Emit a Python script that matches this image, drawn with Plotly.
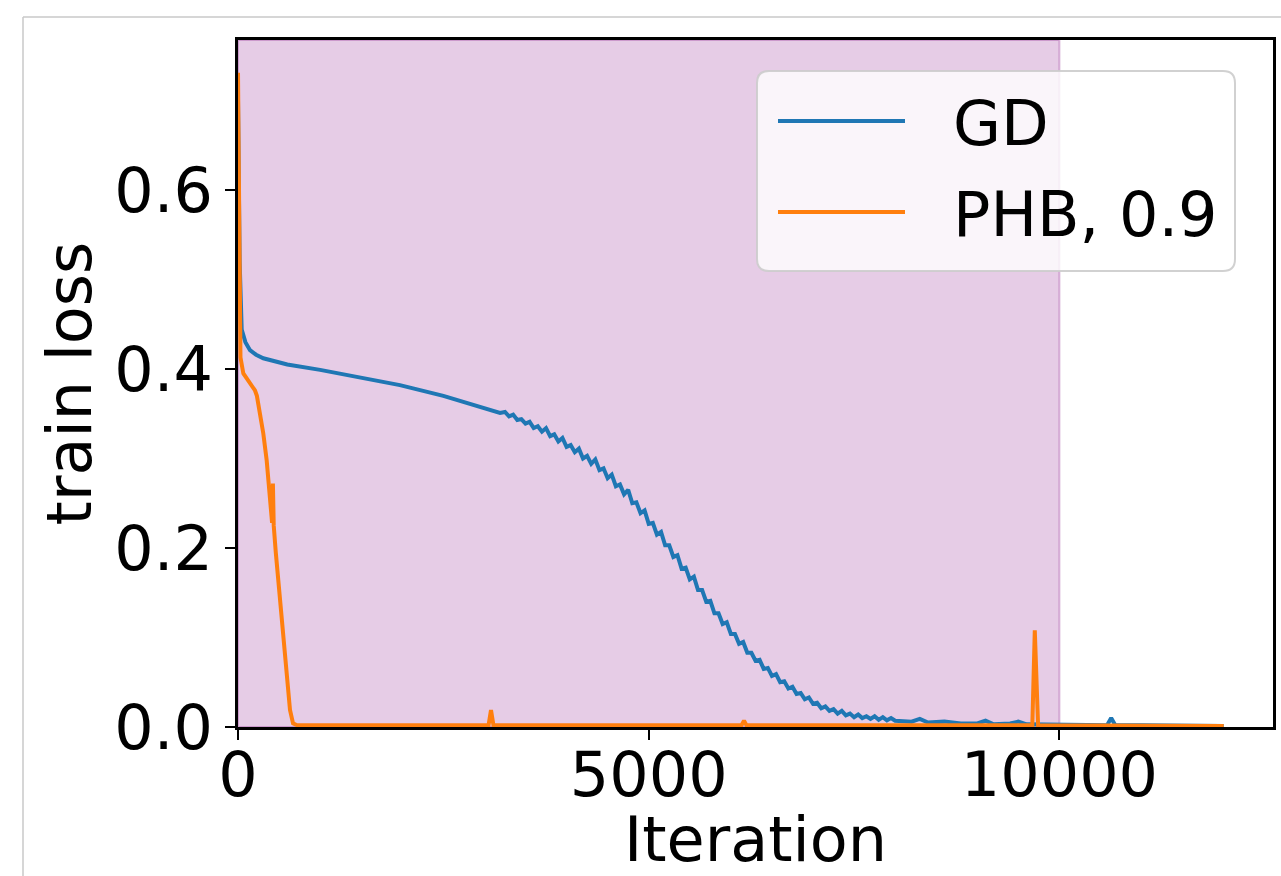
import plotly.graph_objects as go

# ---------------- data ----------------
GD_X = [0, 20, 45, 90, 146, 220, 308, 600, 1000, 1363, 1971, 2500, 3000, 3190,
        3250, 3300, 3350, 3400, 3450, 3500, 3550, 3600, 3650, 3700, 3750, 3800,
        3850, 3900, 3950, 4000, 4050, 4100, 4150, 4200, 4250, 4300, 4350, 4400,
        4450, 4500, 4550, 4600, 4650, 4700, 4750, 4800, 4850, 4900, 4950, 5000,
        5050, 5100, 5150, 5200, 5250, 5300, 5350, 5400, 5450, 5500, 5550, 5600,
        5650, 5700, 5750, 5800, 5850, 5900, 5950, 6000, 6050, 6100, 6150, 6200,
        6250, 6300, 6350, 6400, 6450, 6500, 6550, 6600, 6650, 6700, 6750, 6800,
        6850, 6900, 6950, 7000, 7050, 7100, 7150, 7200, 7250, 7300, 7350, 7400,
        7450, 7500, 7550, 7600, 7650, 7700, 7750, 7800, 7850, 7900, 7950, 8000,
        8200, 8300, 8400, 8600, 8800, 9000, 9100, 9200, 9400, 9500, 9600, 9800,
        10000, 10200, 10400, 10580, 10630, 10680, 11000, 11500, 12000]
GD_Y = [0.700, 0.520, 0.444, 0.430, 0.421, 0.416, 0.412, 0.405, 0.399, 0.393,
        0.382, 0.370, 0.357, 0.351,
        0.352, 0.347, 0.349, 0.343, 0.344, 0.339, 0.341, 0.334, 0.336, 0.330,
        0.334, 0.325, 0.327, 0.319, 0.323, 0.313, 0.315, 0.307, 0.311, 0.300,
        0.303, 0.294, 0.299, 0.287, 0.289, 0.278, 0.282, 0.269, 0.271, 0.260,
        0.265, 0.250, 0.251, 0.239, 0.242, 0.227, 0.228, 0.215, 0.218, 0.203,
        0.203, 0.190, 0.192, 0.177, 0.178, 0.165, 0.168, 0.153, 0.153, 0.140,
        0.141, 0.127, 0.127, 0.115, 0.117, 0.104, 0.104, 0.093, 0.095, 0.083,
        0.083, 0.074, 0.075, 0.065, 0.066, 0.057, 0.059, 0.050, 0.051, 0.043,
        0.045, 0.037, 0.038, 0.031, 0.033, 0.026, 0.027, 0.021, 0.023, 0.018,
        0.020, 0.015, 0.018, 0.013, 0.015, 0.011, 0.014, 0.010, 0.012, 0.009,
        0.012, 0.008, 0.011, 0.0075, 0.010, 0.007,
        0.006, 0.009, 0.005, 0.006, 0.004, 0.004, 0.007, 0.003, 0.004, 0.006,
        0.003, 0.003, 0.002, 0.003, 0.002, 0.002, 0.010, 0.002, 0.002, 0.001,
        0.001]

PHB_X = [0, 10, 25, 30, 65, 140, 207, 230, 270, 308, 349, 380, 400, 415, 425,
         435, 460, 511, 572, 633, 670, 720, 3050, 3080, 3110,
         6130, 6160, 6190, 9670, 9700, 9740, 12000]
PHB_Y = [0.731, 0.600, 0.450, 0.413, 0.395, 0.385, 0.376, 0.370, 0.350, 0.328,
         0.298, 0.262, 0.240, 0.228, 0.272, 0.225, 0.195, 0.142, 0.075, 0.019,
         0.004, 0.002, 0.002, 0.019, 0.002,
         0.002, 0.007, 0.002, 0.002, 0.108, 0.002, 0.001]

SERIES_NAMES = ["GD", "PHB, 0.9"]
SERIES_COLORS = ["#1f77b4", "#ff7f0e"]
X_TICKS = [0, 5000, 10000]
X_TICK_LABELS = ["0", "5000", "10000"]
Y_TICKS = [0.0, 0.2, 0.4, 0.6]
Y_TICK_LABELS = ["0.0", "0.2", "0.4", "0.6"]
SPAN_END = 10000
X_TITLE = "Iteration"
Y_TITLE = "train loss"

# ---------------- layout geometry ----------------
W, H = 1281, 876
L, R, T, B = 238, 8, 40, 149
PW, PH = W - L - R, H - T - B
FONT = "DejaVu Sans"
FS = 62


def px(xp):
    return (xp - L) / PW


def py(yp):
    return (H - B - yp) / PH


fig = go.Figure()
fig.add_trace(go.Scatter(x=GD_X, y=GD_Y, mode="lines", name=SERIES_NAMES[0],
                         line=dict(color=SERIES_COLORS[0], width=4)))
fig.add_trace(go.Scatter(x=PHB_X, y=PHB_Y, mode="lines", name=SERIES_NAMES[1],
                         line=dict(color=SERIES_COLORS[1], width=4)))

shapes = []
# shaded span
shapes.append(dict(type="rect", xref="x", yref="paper", x0=0, x1=SPAN_END, y0=0, y1=1,
                   fillcolor="rgba(128,0,128,0.2)", line=dict(color="rgba(128,0,128,0.25)", width=2),
                   layer="below"))
# outer light frame of the picture
shapes.append(dict(type="line", xref="paper", yref="paper", x0=px(23), x1=px(23),
                   y0=py(H + 5), y1=py(17), line=dict(color="#c8c8c8", width=1.5)))
shapes.append(dict(type="line", xref="paper", yref="paper", x0=px(23), x1=px(W + 5),
                   y0=py(17), y1=py(17), line=dict(color="#c8c8c8", width=1.5)))

# legend box (rounded)
x0, x1 = px(757), px(1235)
y0, y1 = py(271), py(71)
rx, ry = 12 / PW, 12 / PH
path = (f"M{x0+rx},{y0} L{x1-rx},{y0} Q{x1},{y0} {x1},{y0+ry} L{x1},{y1-ry} "
        f"Q{x1},{y1} {x1-rx},{y1} L{x0+rx},{y1} Q{x0},{y1} {x0},{y1-ry} "
        f"L{x0},{y0+ry} Q{x0},{y0} {x0+rx},{y0} Z")
shapes.append(dict(type="path", xref="paper", yref="paper", path=path,
                   fillcolor="rgba(255,255,255,0.8)",
                   line=dict(color="rgba(204,204,204,0.9)", width=2), layer="above"))
leg_rows = [121, 212]
for i, yy in enumerate(leg_rows):
    shapes.append(dict(type="line", xref="paper", yref="paper", x0=px(778), x1=px(905),
                       y0=py(yy), y1=py(yy), line=dict(color=SERIES_COLORS[i], width=4),
                       layer="above"))

annotations = []
for i, yy in enumerate(leg_rows):
    annotations.append(dict(xref="paper", yref="paper", x=px(951), y=py(yy + 2),
                            xanchor="left", yanchor="middle", showarrow=False,
                            text=SERIES_NAMES[i], font=dict(family=FONT, size=FS, color="black")))
# x axis title
annotations.append(dict(xref="paper", yref="paper", x=0.5, y=py(840),
                        xanchor="center", yanchor="middle", showarrow=False,
                        text=X_TITLE, font=dict(family=FONT, size=FS, color="black")))

fig.update_layout(
    width=W, height=H, autosize=False,
    margin=dict(l=L, r=R, t=T, b=B, pad=0),
    paper_bgcolor="white", plot_bgcolor="white",
    showlegend=False,
    font=dict(family=FONT, size=FS, color="black"),
    shapes=shapes, annotations=annotations,
)
axis_common = dict(showgrid=False, zeroline=False, showline=True, mirror=True,
                   linecolor="black", linewidth=2.5, ticks="outside", ticklen=10,
                   tickwidth=2.2, tickcolor="black", automargin=False,
                   tickfont=dict(family=FONT, size=FS, color="black"))
fig.update_xaxes(range=[0, 12600], tickvals=X_TICKS, ticktext=X_TICK_LABELS,
                 ticklabelstandoff=-18, **axis_common)
fig.update_yaxes(range=[0, 0.7676], tickvals=Y_TICKS, ticktext=Y_TICK_LABELS,
                 title=dict(text=Y_TITLE, font=dict(family=FONT, size=FS), standoff=3),
                 **axis_common)

fig.write_html("out.html")
